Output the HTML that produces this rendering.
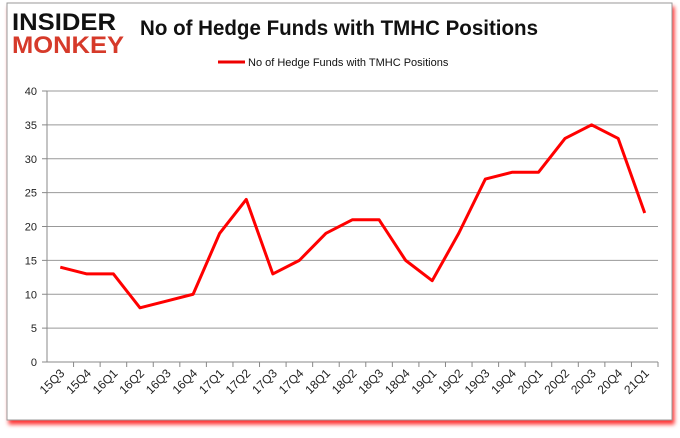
<!DOCTYPE html>
<html><head><meta charset="utf-8"><style>
body{margin:0;background:#fff;width:680px;height:433px;overflow:hidden;font-family:"Liberation Sans",sans-serif}
</style></head><body>
<svg width="680" height="433">
<defs><filter id="sh" x="-5%" y="-5%" width="110%" height="115%"><feDropShadow dx="2" dy="4" stdDeviation="2" flood-color="#f00" flood-opacity="0.8"/></filter></defs>
<rect x="7" y="3" width="665" height="417" fill="#fff" stroke="#999" filter="url(#sh)"/>
<g>
<text x="12" y="30" font-size="24" font-weight="bold" fill="#111" textLength="104" lengthAdjust="spacingAndGlyphs">INSIDER</text>
<text x="12" y="53" font-size="24" font-weight="bold" fill="#d63a2a" textLength="112" lengthAdjust="spacingAndGlyphs">MONKEY</text>
</g>
<text x="140" y="35" font-size="21" font-weight="bold" fill="#111" textLength="398" lengthAdjust="spacingAndGlyphs">No of Hedge Funds with TMHC Positions</text>
<line x1="218" y1="62" x2="245" y2="62" stroke="#e00" stroke-width="3"/>
<text x="248" y="66" font-size="11" fill="#111">No of Hedge Funds with TMHC Positions</text>
<g id="grid"></g><g id="axes"></g><g id="series"></g>
</svg>
<script>
const categories=["15Q3","15Q4","16Q1","16Q2","16Q3","16Q4","17Q1","17Q2","17Q3","17Q4","18Q1","18Q2","18Q3","18Q4","19Q1","19Q2","19Q3","19Q4","20Q1","20Q2","20Q3","20Q4","21Q1"];
const values=[14,13,13,8,9,10,19,24,13,15,19,21,21,15,12,19,27,28,28,33,35,33,22];
const yTicks=[0,5,10,15,20,25,30,35,40];
const L=47,R=658,T=91,B=362,ymax=40;
const NS="http://www.w3.org/2000/svg";
const xs=i=>L+(R-L)/categories.length*(i+0.5);
const ys=v=>B-(B-T)*v/ymax;
function mk(t,a,p){const e=document.createElementNS(NS,t);for(const k in a)e.setAttribute(k,a[k]);p.appendChild(e);return e;}
const g=document.getElementById('grid'),ax=document.getElementById('axes'),s=document.getElementById('series');
yTicks.forEach(v=>{
 if(v>0){const l=mk('line',{x1:L,x2:R,y1:ys(v),y2:ys(v),stroke:'#999','stroke-width':1},g);
 
 }
 mk('line',{x1:L-5,x2:L,y1:ys(v),y2:ys(v),stroke:'#888'},ax);
 const t=mk('text',{x:L-10,y:ys(v)+4,'text-anchor':'end','font-size':11,fill:'#222'},ax);t.textContent=v;
 
 
});
mk('line',{x1:L,x2:L,y1:T,y2:B,stroke:'#888'},ax);
mk('line',{x1:L,x2:R,y1:B,y2:B,stroke:'#888'},ax);
categories.forEach((c,i)=>{
 const x=L+(R-L)/categories.length*(i+1);
 mk('line',{x1:x,x2:x,y1:B,y2:B+5,stroke:'#888'},ax);
 const cx=xs(i)+5;
 const t=mk('text',{x:cx,y:B+12,'text-anchor':'end','font-size':12,fill:'#222',transform:`rotate(-45 ${cx} ${B+12})`},ax);t.textContent=c;
 
 
});
const p=mk('polyline',{points:values.map((v,i)=>xs(i)+','+ys(v)).join(' '),fill:'none',stroke:'#f00','stroke-width':3,'stroke-linejoin':'round'},s);


</script>
</body></html>
